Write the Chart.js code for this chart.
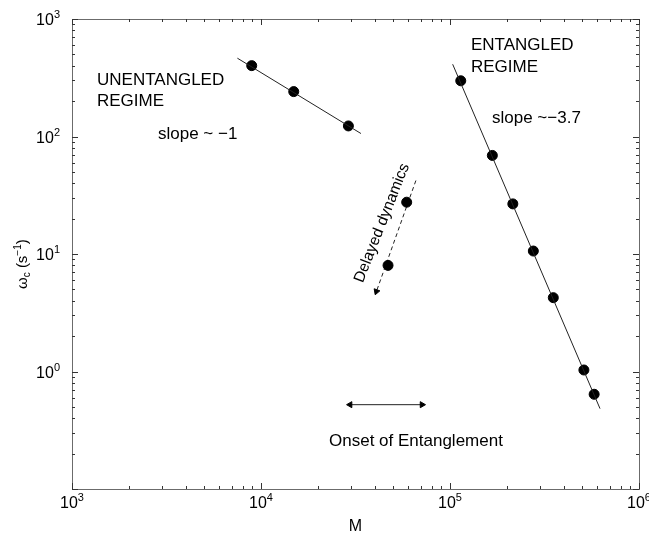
<!DOCTYPE html>
<html>
<head>
<meta charset="utf-8">
<script src="https://cdn.jsdelivr.net/npm/chart.js@4.4.0/dist/chart.umd.min.js"></script>
<style>
  html, body { margin: 0; padding: 0; background: #fff; }
</style>
</head>
<body>
<canvas id="chart" width="649" height="533"></canvas>
<script>
// M (molecular weight) against crossover frequency omega_c (s^-1)
const unentangledM = [8930, 14900, 29000];
const unentangledW = [401, 241, 123];
const delayedM = [59000, 47000];
const delayedW = [27.6, 8.0];
const entangledM = [114000, 167500, 215000, 276000, 352000, 511000, 579000];
const entangledW = [298, 69, 26.7, 10.6, 4.25, 1.03, 0.64];

const fitLowM = [7500, 33800];
const fitLowW = [464, 106];
const fitHighM = [103300, 622000];
const fitHighW = [412, 0.483];

// arrows (ends sit at the centre of the arrow heads)
const delayArrowM = [66000, 40800];
const delayArrowW = [42.2, 4.8];
const onsetArrowM = [29600, 71100];
const onsetArrowW = [0.522, 0.522];

// decades: labelled ones and the full tick ranges
const xTickExps = [3, 4, 5, 6];
const yTickExps = [0, 1, 2, 3];
const xDecades = [3, 4, 5];
const yDecades = [-1, 0, 1, 2];

const FONT = '"Liberation Sans", Arial, Helvetica, sans-serif';

function pts(xs, ys) {
    return xs.map((x, i) => ({ x: x, y: ys[i] }));
}

// 1..9 x 10^e for every decade, plus the closing decade
function logTicks(decades) {
    const out = [];
    decades.forEach(e => {
        for (let m = 1; m <= 9; m++) out.push({ v: m * Math.pow(10, e), major: m === 1 });
    });
    out.push({ v: Math.pow(10, decades[decades.length - 1] + 1), major: true });
    return out;
}

// "10" with a raised exponent
function drawPow(ctx, exp, x, y, align) {
    ctx.font = '16px ' + FONT;
    const wb = ctx.measureText('10').width;
    ctx.font = '11px ' + FONT;
    const we = ctx.measureText(String(exp)).width;
    let start = x;
    if (align === 'center') start = x - (wb + we) / 2;
    if (align === 'right') start = x - (wb + we);
    ctx.textAlign = 'left';
    ctx.textBaseline = 'alphabetic';
    ctx.font = '16px ' + FONT;
    ctx.fillText('10', start, y);
    ctx.font = '11px ' + FONT;
    ctx.fillText(String(exp), start + wb, y - 7);
}

const framePlugin = {
    id: 'frame',
    afterDraw(chart) {
        const ctx = chart.ctx;
        const a = chart.chartArea;
        const x = chart.scales.x;
        const y = chart.scales.y;
        ctx.save();

        // box
        ctx.strokeStyle = '#6b6b6b';
        ctx.lineWidth = 1;
        ctx.strokeRect(Math.round(a.left) + 0.5, Math.round(a.top) + 0.5,
            Math.round(a.right - a.left), Math.round(a.bottom - a.top));

        // inward ticks on all four sides
        ctx.strokeStyle = '#333';
        ctx.beginPath();
        logTicks(xDecades).forEach(t => {
            const px = Math.round(x.getPixelForValue(t.v)) + 0.5;
            const len = t.major ? 6 : 3;
            ctx.moveTo(px, a.bottom); ctx.lineTo(px, a.bottom - len);
            ctx.moveTo(px, a.top); ctx.lineTo(px, a.top + len);
        });
        logTicks(yDecades).forEach(t => {
            const py = Math.round(y.getPixelForValue(t.v)) + 0.5;
            const len = t.major ? 6 : 3;
            ctx.moveTo(a.left, py); ctx.lineTo(a.left + len, py);
            ctx.moveTo(a.right, py); ctx.lineTo(a.right - len, py);
        });
        ctx.stroke();

        // tick labels
        ctx.fillStyle = '#000';
        xTickExps.forEach(e => {
            drawPow(ctx, e, x.getPixelForValue(Math.pow(10, e)), a.bottom + 19, 'center');
        });
        yTickExps.forEach(e => {
            drawPow(ctx, e, a.left - 12, y.getPixelForValue(Math.pow(10, e)) + 6, 'right');
        });

        // axis titles
        ctx.font = '16px ' + FONT;
        ctx.textAlign = 'center';
        ctx.fillText('M', (a.left + a.right) / 2, 531);

        ctx.save();
        ctx.translate(27, 289);
        ctx.rotate(-Math.PI / 2);
        ctx.textAlign = 'left';
        let cx = 0;
        ctx.font = '15px ' + FONT;
        ctx.fillText('\u03C9', cx, 0); cx += ctx.measureText('\u03C9').width;
        ctx.font = '10px ' + FONT;
        ctx.fillText('c', cx, 3); cx += ctx.measureText('c').width;
        ctx.font = '15px ' + FONT;
        ctx.fillText(' (s', cx, 0); cx += ctx.measureText(' (s').width;
        ctx.font = '10px ' + FONT;
        ctx.fillText('\u22121', cx, -6); cx += ctx.measureText('\u22121').width;
        ctx.font = '15px ' + FONT;
        ctx.fillText(')', cx, 0);
        ctx.restore();

        // annotations
        ctx.font = '17px ' + FONT;
        ctx.textAlign = 'left';
        ctx.fillText('UNENTANGLED', 97, 85);
        ctx.fillText('REGIME', 97, 106);
        ctx.fillText('slope ~ \u22121', 158, 139);
        ctx.fillText('ENTANGLED', 471, 50);
        ctx.fillText('REGIME', 471, 72);
        ctx.fillText('slope ~\u22123.7', 492, 123);
        ctx.fillText('Onset of Entanglement', 329, 446);

        ctx.save();
        ctx.translate(382, 223);
        ctx.rotate(-68.4 * Math.PI / 180);
        ctx.font = '15.5px ' + FONT;
        ctx.textAlign = 'center';
        ctx.textBaseline = 'middle';
        ctx.fillText('Delayed dynamics', 0, 0);
        ctx.restore();

        ctx.restore();
    }
};

const dot = { showLine: false, pointRadius: 5, pointHoverRadius: 5, backgroundColor: '#000', borderColor: '#000' };
const thin = { showLine: true, pointRadius: 0, borderColor: '#222', borderWidth: 1 };

new Chart(document.getElementById('chart'), {
    type: 'scatter',
    data: {
        datasets: [
            Object.assign({ data: pts(fitLowM, fitLowW) }, thin),
            Object.assign({ data: pts(fitHighM, fitHighW) }, thin),
            Object.assign({ data: pts(unentangledM, unentangledW) }, dot),
            Object.assign({ data: pts(delayedM, delayedW) }, dot),
            Object.assign({ data: pts(entangledM, entangledW) }, dot),
            {
                data: pts(delayArrowM, delayArrowW),
                showLine: true, borderColor: '#222', borderWidth: 1, borderDash: [4, 3],
                pointStyle: 'triangle', pointRadius: [0, 3.5], pointRotation: [0, 200],
                pointBackgroundColor: '#000', pointBorderColor: '#000', pointBorderWidth: 1
            },
            {
                data: pts(onsetArrowM, onsetArrowW),
                showLine: true, borderColor: '#222', borderWidth: 1,
                pointStyle: 'triangle', pointRadius: 3.5, pointRotation: [270, 90],
                pointBackgroundColor: '#000', pointBorderColor: '#000', pointBorderWidth: 1
            }
        ]
    },
    options: {
        responsive: false,
        animation: false,
        devicePixelRatio: 1,
        layout: { padding: { left: 72, top: 19, right: 10, bottom: 44 } },
        plugins: { legend: { display: false }, tooltip: { enabled: false } },
        scales: {
            x: { type: 'logarithmic', min: 1e3, max: 1e6, display: false },
            y: { type: 'logarithmic', min: 0.1, max: 1e3, display: false }
        }
    },
    plugins: [framePlugin]
});
</script>
</body>
</html>
